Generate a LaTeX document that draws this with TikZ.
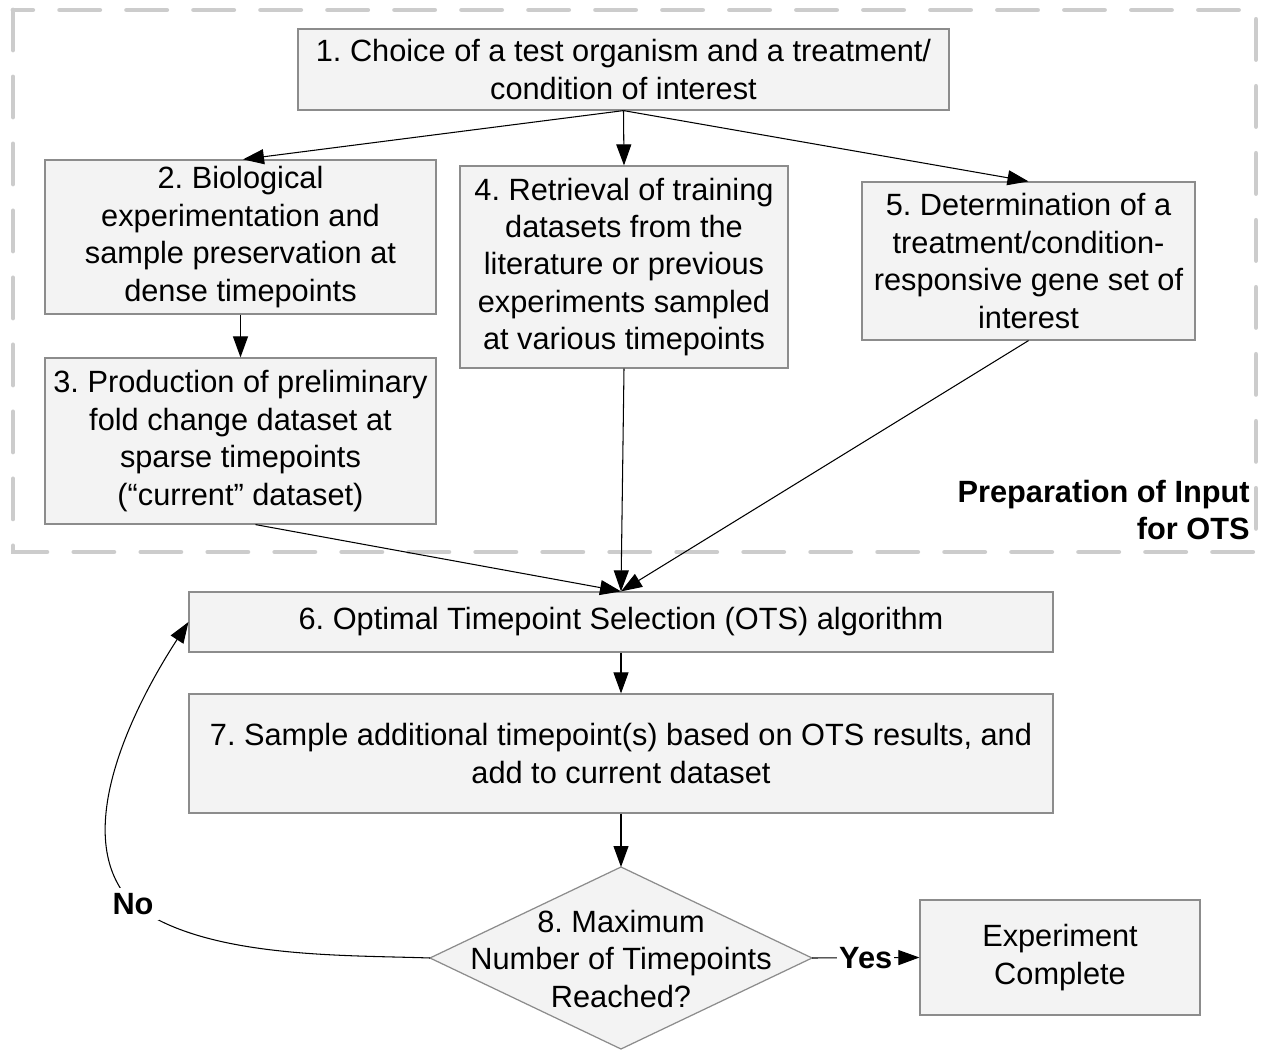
\documentclass[tikz,border=0pt]{standalone}
\usepackage{fontspec}
\setmainfont{Liberation Sans}
\usetikzlibrary{arrows.meta,calc}
\definecolor{boxfill}{HTML}{F3F3F3}
\definecolor{boxgray}{HTML}{8C8C8C}
\definecolor{dashgray}{HTML}{CCCCCC}
\frenchspacing
\begin{document}
\begin{tikzpicture}[x=0.02cm,y=-0.02cm,
  mainfont/.style={font=\fontsize{17.5}{21.3}\selectfont},
  box/.style={draw=boxgray, fill=boxfill, line width=0.7pt, align=center, mainfont, inner sep=2pt},
  txt/.style={align=center, mainfont, inner sep=0pt},
  arr/.style={-{Triangle[length=0.42cm,width=0.3cm]}, line width=0.6pt, black},
  dashbox/.style={draw=dashgray, line width=2.8pt, line cap=round, dash pattern=on 0.8cm off 0.54cm},
  lbl/.style={font=\fontsize{17.5}{21.3}\selectfont\bfseries, fill=white, inner sep=1pt}]
\useasboundingbox (0,0) rectangle (1262,1050);
\fill[white] (0,0) rectangle (1262,1050);
% dashed region
\draw[dashbox] (13,10) rectangle (1256,552);
\node[txt, anchor=east, align=right, font=\fontsize{17.5}{21.3}\selectfont\bfseries] (prep) at (1250,510) {Preparation of Input\\for OTS};
% boxes
\node[box, minimum width=13.02cm, minimum height=1.62cm] (b1) at (623.5,69.5) {1. Choice of a test organism and a treatment/\\condition of interest};
\node[box, minimum width=7.82cm, minimum height=3.08cm] (b2) at (240.5,237) {2. Biological\\experimentation and\\sample preservation at\\dense timepoints};
\node[box, minimum width=7.82cm, minimum height=3.32cm] (b3) at (240.5,441) {3. Production of preliminary\\fold change dataset at\\sparse timepoints\\(“current” dataset)};
\node[box, minimum width=6.56cm, minimum height=4.04cm] (b4) at (624,267) {4. Retrieval of training\\datasets from the\\literature or previous\\experiments sampled\\at various timepoints};
\node[box, minimum width=6.66cm, minimum height=3.16cm] (b5) at (1028.5,261) {5. Determination of a\\treatment/condition-\\responsive gene set of\\interest};
\node[box, minimum width=17.28cm, minimum height=1.2cm] (b6) at (621,622) {6. Optimal Timepoint Selection (OTS) algorithm};
\node[box, minimum width=17.28cm, minimum height=2.38cm] (b7) at (621,753.5) {7. Sample additional timepoint(s) based on OTS results, and\\add to current dataset};
\node[box, minimum width=5.6cm, minimum height=2.3cm] (bE) at (1060,957.5) {Experiment\\Complete};
% diamond
\coordinate (dT) at (621,867);
\coordinate (dB) at (621,1049);
\coordinate (dL) at (430,958);
\coordinate (dR) at (812,958);
\filldraw[draw=boxgray, fill=boxfill, line width=0.7pt] (dT) -- (dR) -- (dB) -- (dL) -- cycle;
\node[txt] (b8) at (621,959) {8. Maximum\\Number of Timepoints\\Reached?};
% connectors
\draw[arr] (b1.south) -- ([xshift=0.05cm]b2.north);
\draw[arr] (b1.south) -- (b4.north);
\draw[arr] (b1.south) -- (b5.north);
\draw[arr] (b2.south) -- (b3.north);
\draw[arr] ([xshift=0.3cm]b3.south) -- (b6.north);
\draw[arr] (b4.south) -- (b6.north);
\draw[arr] (b5.south) -- (b6.north);
\draw[arr] (b6.south) -- (b7.north);
\draw[arr] (b7.south) -- (dT);
\draw[arr] (dR) -- node[lbl] (yes) {Yes} (bE.west);
\coordinate (nopt) at (133,904);
\draw[arr] (dL) to[out=178, in=-38, looseness=0.75] (nopt) to[out=135, in=237, looseness=0.85] (b6.west);
\node[lbl, inner sep=3pt] (no) at (nopt) {No};
\end{tikzpicture}
\end{document}
